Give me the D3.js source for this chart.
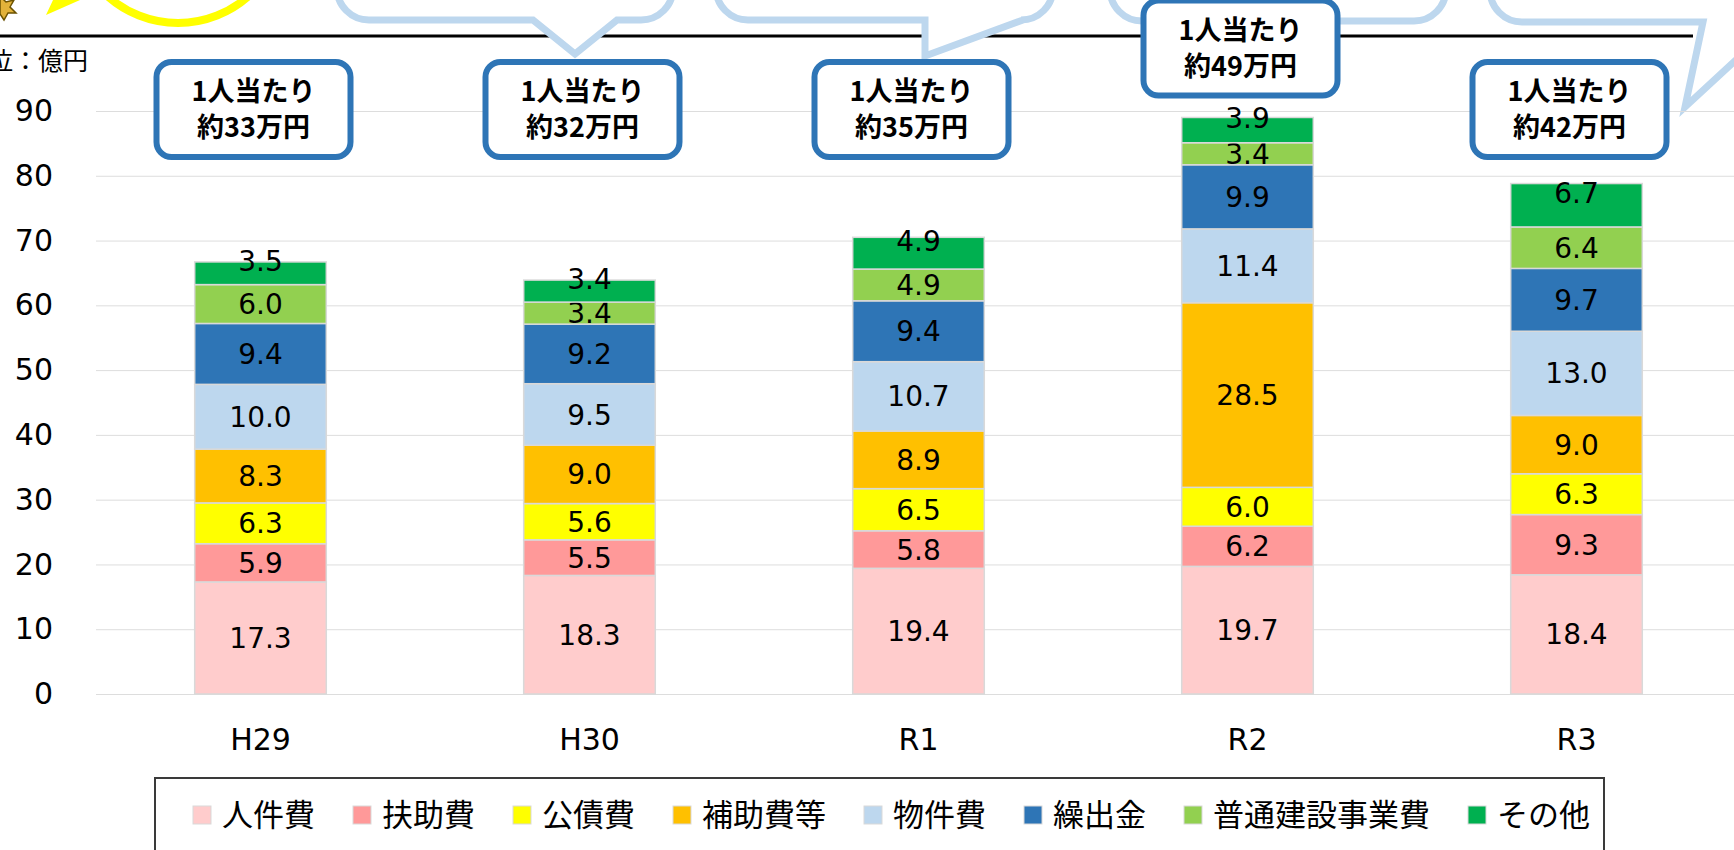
<!DOCTYPE html>
<html>
<head>
<meta charset="utf-8">
<script src="https://cdn.jsdelivr.net/npm/d3@7"></script>
<style>
  body { margin: 0; background: #fff; }
  svg { display: block; }
  text { font-family: "DejaVu Sans", Verdana, sans-serif; }
  .jp { font-family: "Noto Sans CJK JP", sans-serif; }
</style>
</head>
<body>
<div id="chart"></div>
<script>
// values, 億円
const categories = ['H29', 'H30', 'R1', 'R2', 'R3'];
const seriesNames = ['人件費', '扶助費', '公債費', '補助費等', '物件費', '繰出金', '普通建設事業費', 'その他'];
const jinkenhi = [17.3, 18.3, 19.4, 19.7, 18.4];
const fujohi = [5.9, 5.5, 5.8, 6.2, 9.3];
const kosaihi = [6.3, 5.6, 6.5, 6.0, 6.3];
const hojohi = [8.3, 9.0, 8.9, 28.5, 9.0];
const bukkenhi = [10.0, 9.5, 10.7, 11.4, 13.0];
const kuridashi = [9.4, 9.2, 9.4, 9.9, 9.7];
const futsuKensetsu = [6.0, 3.4, 4.9, 3.4, 6.4];
const sonota = [3.5, 3.4, 4.9, 3.9, 6.7];
const perCapita = [33, 32, 35, 49, 42]; // 1人当たり 万円
const yTicks = [0, 10, 20, 30, 40, 50, 60, 70, 80, 90];

const colors = ['#FFCCCC', '#FF9999', '#FFFF00', '#FFC000', '#BDD7EE', '#2E75B6', '#92D050', '#00B050'];

const W = 1734, H = 850;
const seriesValues = [jinkenhi, fujohi, kosaihi, hojohi, bukkenhi, kuridashi, futsuKensetsu, sonota];
const rows = categories.map((c, i) => {
    const row = { cat: c };
    seriesNames.forEach((s, j) => { row[s] = seriesValues[j][i]; });
    return row;
});

const svg = d3.select('#chart').append('svg')
    .attr('width', W)
    .attr('height', H);

// --- header decorations (cut off at the top of the slide) ---
svg.append('line')
    .attr('x1', 0).attr('x2', 1693)
    .attr('y1', 36).attr('y2', 36)
    .attr('stroke', '#000').attr('stroke-width', 3);

svg.append('circle')
    .attr('cx', 178).attr('cy', -83).attr('r', 106)
    .attr('fill', '#fff').attr('stroke', '#FFFF00').attr('stroke-width', 8);
svg.append('polygon')
    .attr('points', '46,15 53,0 80,0')
    .attr('fill', '#FFFF00');
svg.append('polygon')
    .attr('points', '0,-4 6,2 14,0 10,7 16,13 8,13 4,20 0,14')
    .attr('fill', '#E2B23A').attr('stroke', '#6b5200').attr('stroke-width', 1.5);

function bubble(x0, x1, bottom, r, tail) {
    const p = d3.path();
    p.moveTo(x0, -200);
    p.lineTo(x0, bottom - r);
    p.arcTo(x0, bottom, x0 + r, bottom, r);
    if (tail) {
        p.lineTo(tail[0][0], tail[0][1]);
        p.lineTo(tail[1][0], tail[1][1]);
        p.lineTo(tail[2][0], tail[2][1]);
    }
    p.lineTo(x1 - r, bottom);
    p.arcTo(x1, bottom, x1, bottom - r, r);
    p.lineTo(x1, -200);
    return p.toString();
}
const bubbles = [
    bubble(337, 673, 20, 32, [[533, 20], [575, 54], [617, 20]]),
    bubble(716, 1053, 20, 32, [[925, 20], [925, 56], [1023, 20]]),
    bubble(1110, 1446, 21, 32, null),
    bubble(1490, 1950, 22, 32, [[1703, 22], [1685, 107], [1777, 22]])
];
svg.selectAll('path.bubble')
    .data(bubbles)
    .enter()
    .append('path')
    .attr('class', 'bubble')
    .attr('d', d => d)
    .attr('fill', '#fff')
    .attr('stroke', '#BDD7EE')
    .attr('stroke-width', 7)
    .attr('stroke-linejoin', 'miter');

// --- scales ---
const x = d3.scaleBand()
    .domain(categories)
    .range([96, 1741])
    .paddingInner(0.6)
    .paddingOuter(0.3);

const y = d3.scaleLinear()
    .domain([0, 90])
    .range([694, 111]);

// y axis + gridlines
const yAxis = svg.append('g')
    .attr('transform', 'translate(96,0)')
    .call(d3.axisLeft(y).tickValues(yTicks).tickSize(-(W - 96)).tickPadding(43));
yAxis.select('.domain').remove();
yAxis.selectAll('.tick line').attr('stroke', '#DDDDDD').attr('stroke-width', 1);
yAxis.selectAll('.tick text')
    .attr('font-size', 30)
    .attr('fill', '#000')
    .attr('font-family', '"DejaVu Sans", Verdana, sans-serif');

// x axis labels
const xAxis = svg.append('g')
    .attr('transform', 'translate(0,694)')
    .call(d3.axisBottom(x).tickSize(0).tickPadding(0));
xAxis.select('.domain').remove();
xAxis.selectAll('.tick text')
    .attr('y', 45)
    .attr('dy', '0.35em')
    .attr('font-size', 30)
    .attr('fill', '#000')
    .attr('font-family', '"DejaVu Sans", Verdana, sans-serif');

// unit label (left part falls off the slide)
svg.append('text')
    .attr('class', 'jp')
    .attr('x', 88).attr('y', 61)
    .attr('dy', '0.35em')
    .attr('text-anchor', 'end')
    .attr('font-size', 25)
    .text('単位：億円');

// --- stacked bars ---
const stack = d3.stack().keys(seriesNames);
const stacked = stack(rows);

const layers = svg.selectAll('g.layer')
    .data(stacked)
    .enter()
    .append('g')
    .attr('class', 'layer')
    .attr('fill', (d, i) => colors[i]);

layers.selectAll('rect')
    .data(d => d)
    .enter()
    .append('rect')
    .attr('x', d => x(d.data.cat))
    .attr('y', d => y(d[1]))
    .attr('width', x.bandwidth())
    .attr('height', d => y(d[0]) - y(d[1]))
    .attr('stroke', '#D9D9D9')
    .attr('stroke-width', 1.5);

const fmt = d3.format('.1f');
layers.selectAll('text')
    .data(d => d.map(v => Object.assign(v, { key: d.key, top: d.index === seriesNames.length - 1 })))
    .enter()
    .append('text')
    .attr('x', d => x(d.data.cat) + x.bandwidth() / 2)
    .attr('y', d => (y(d[0]) + y(d[1])) / 2 + (d.top ? -12 : 0))
    .attr('dy', '0.36em')
    .attr('text-anchor', 'middle')
    .attr('font-size', 28)
    .attr('fill', '#000')
    .text(d => fmt(d.data[d.key]));

// --- 1人当たり boxes ---
const totals = rows.map(r => d3.sum(seriesNames, s => r[s]));
const boxW = 194, boxH = 95;
const boxes = svg.selectAll('g.pc')
    .data(categories.map((c, i) => ({ cat: c, v: perCapita[i], total: totals[i] })))
    .enter()
    .append('g')
    .attr('class', 'pc')
    .attr('transform', d => {
        const cx = x(d.cat) + x.bandwidth() / 2 - 7;
        const bottom = Math.min(157, y(d.total) - 22);
        return `translate(${cx},${bottom - boxH})`;
    });

boxes.append('rect')
    .attr('x', -boxW / 2)
    .attr('y', 0)
    .attr('width', boxW)
    .attr('height', boxH)
    .attr('rx', 15)
    .attr('fill', '#fff')
    .attr('stroke', '#2E75B6')
    .attr('stroke-width', 6);

boxes.append('text')
    .attr('class', 'jp')
    .attr('y', boxH / 2 - 18)
    .attr('dy', '0.36em')
    .attr('text-anchor', 'middle')
    .attr('font-size', 27)
    .attr('font-weight', 'bold')
    .text('1人当たり');

boxes.append('text')
    .attr('class', 'jp')
    .attr('y', boxH / 2 + 18)
    .attr('dy', '0.36em')
    .attr('text-anchor', 'middle')
    .attr('font-size', 27)
    .attr('font-weight', 'bold')
    .text(d => `約${d.v}万円`);

// --- legend ---
svg.append('rect')
    .attr('x', 155).attr('y', 778)
    .attr('width', 1449).attr('height', 120)
    .attr('fill', '#fff')
    .attr('stroke', '#3a3a3a')
    .attr('stroke-width', 2);

const legend = svg.append('g').attr('class', 'legend');
let lx = 193;
seriesNames.forEach((name, i) => {
    legend.append('rect')
        .attr('x', lx).attr('y', 806)
        .attr('width', 18).attr('height', 18)
        .attr('fill', colors[i])
        .attr('stroke', '#D9D9D9')
        .attr('stroke-width', 1);
    const t = legend.append('text')
        .attr('class', 'jp')
        .attr('x', lx + 29)
        .attr('y', 815)
        .attr('dy', '0.36em')
        .attr('font-size', 31)
        .attr('fill', '#000')
        .text(name);
    lx = lx + 29 + t.node().getComputedTextLength() + 38;
});
</script>
</body>
</html>
